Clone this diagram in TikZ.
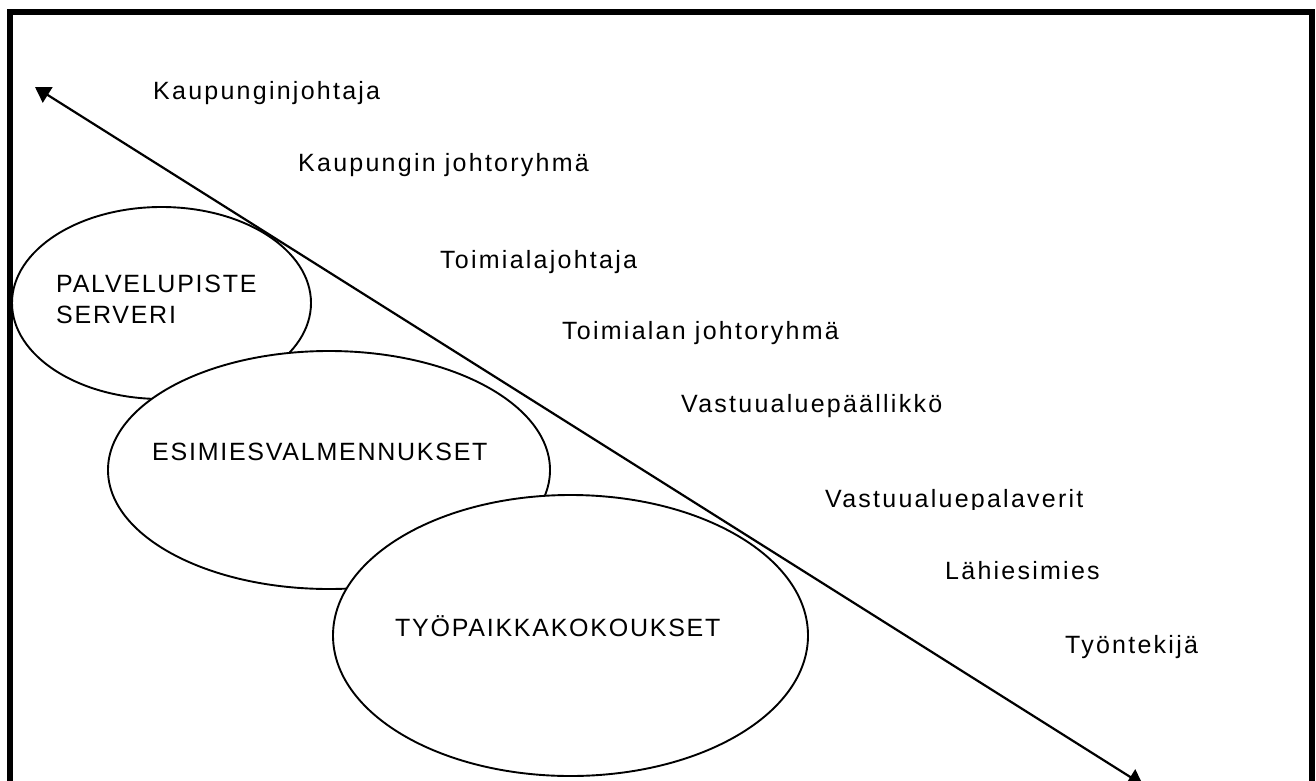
\documentclass[tikz,border=0pt]{standalone}
\usepackage{fontspec}
\setmainfont{Liberation Sans}
\usetikzlibrary{shapes.geometric,arrows.meta}
\tikzset{
  blob/.style={ellipse, draw=black, fill=white, line width=1.9pt, inner sep=0pt},
  lvl/.style={anchor=base west, inner sep=0pt, font=\fontsize{25}{29}\selectfont\addfontfeatures{LetterSpace=9}},
  inlbl/.style={anchor=base west, inner sep=0pt, align=left, font=\fontsize{25}{31}\selectfont\addfontfeatures{LetterSpace=7}},
  axis/.style={line width=2.2pt, {Triangle[length=15pt,width=18pt]}-{Triangle[length=15pt,width=18pt]}}
}
\begin{document}
\begin{tikzpicture}[x=1pt,y=-1pt]
\useasboundingbox (0,0) rectangle (1316,781);
\fill[white] (0,0) rectangle (1316,781);
\draw[line width=6pt] (9.5,800) -- (9.5,12) -- (1312,12) -- (1312,800);
% ellipses
\node[blob, minimum width=299pt, minimum height=192pt] (e1) at (161.5,303) {};
\node[blob, minimum width=442pt, minimum height=238pt] (e2) at (329,470) {};
\node[blob, minimum width=475pt, minimum height=281pt] (e3) at (570.5,635.5) {};
% ellipse labels
\node[inlbl] (t1) at (56,323) {PALVELUPISTE\\SERVERI};
\node[inlbl] (t2) at (152,460) {ESIMIESVALMENNUKSET};
\node[inlbl] (t3) at (395,636) {TYÖPAIKKAKOKOUKSET};
% level labels
\node[lvl] (l1) at (153,100) {Kaupunginjohtaja};
\node[lvl] (l2) at (298,171) {Kaupungin johtoryhmä};
\node[lvl] (l3) at (440,268) {Toimialajohtaja};
\node[lvl] (l4) at (562,339) {Toimialan johtoryhmä};
\node[lvl] (l5) at (681,412) {Vastuualuepäällikkö};
\begin{scope}
\clip (0,0) rectangle (1316,509);
\node[lvl] (l6) at (825,507) {Vastuualuepalaverit};
\end{scope}
\node[lvl] (l7) at (945,579) {Lähiesimies};
\node[lvl] (l8) at (1065,653) {Työntekijä};
% axis arrow
\coordinate (top) at (35,87);
\coordinate (bot) at (1143,785);
\draw[axis] (top) -- (bot);
\end{tikzpicture}
\end{document}
